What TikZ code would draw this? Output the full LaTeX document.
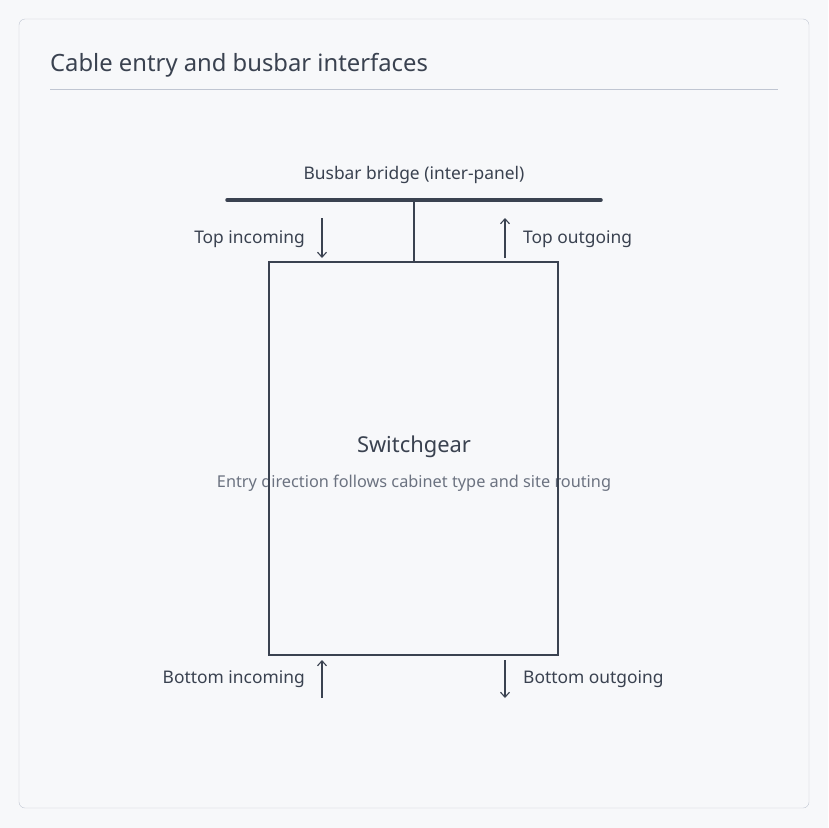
\documentclass[tikz,border=0pt]{standalone}
\usepackage{fontspec}
\setmainfont{Noto Sans}
\usetikzlibrary{arrows.meta, positioning}
\definecolor{InkColor}{RGB}{58,66,80}
\definecolor{MutedColor}{RGB}{107,114,128}
\definecolor{FrameColor}{RGB}{192,198,210}
\definecolor{PaperColor}{RGB}{247,248,250}
\tikzset{
  label text/.style={text=InkColor, font=\fontsize{17.4}{20}\selectfont, inner sep=0pt},
  flow arrow/.style={InkColor, line width=1.1pt, -{Straight Barb[length=5pt, width=9pt]}},
}
\begin{document}
\begin{tikzpicture}[x=1pt, y=-1pt]
  \useasboundingbox (0,0) rectangle (828,828);
  \fill[PaperColor] (0,0) rectangle (828,828);
  \draw[FrameColor, fill=PaperColor, rounded corners=6pt] (19,19) rectangle (809,808);
  \node[anchor=west, text=InkColor, font=\fontsize{23.8}{28}\selectfont, inner sep=0pt] (title) at (50,65) {Cable entry and busbar interfaces};
  \draw[FrameColor] (50,89) -- (778,89);
  % busbar
  \coordinate (busL) at (227,200);
  \coordinate (busR) at (601,200);
  \coordinate (busTap) at (414,200);
  \draw[InkColor, line width=3.5pt, line cap=round] (busL) -- (busR);
  \node[label text] (busLabel) at (414,175) {Busbar bridge (inter-panel)};
  % switchgear
  \node[label text, font=\fontsize{21.9}{26}\selectfont] (sgTitle) at (414,447) {Switchgear};
  \node[label text, text=MutedColor, font=\fontsize{16.3}{19}\selectfont] (sgNote) at (414,483) {Entry direction follows cabinet type and site routing};
  \node[draw=InkColor, line width=1.3pt, minimum width=289pt, minimum height=393pt, inner sep=0pt] (sg) at (413.5,458.5) {};
  \draw[InkColor, line width=1.3pt] (busTap) -- (busTap |- sg.north);
  % cable entries
  \coordinate (tiA) at (322,218); \coordinate (tiB) at (322,258);
  \coordinate (toA) at (505,258); \coordinate (toB) at (505,218);
  \coordinate (biA) at (322,698); \coordinate (biB) at (322,660);
  \coordinate (boA) at (505,660); \coordinate (boB) at (505,698);
  \draw[flow arrow] (tiA) -- (tiB);
  \draw[flow arrow] (toA) -- (toB);
  \draw[flow arrow] (biA) -- (biB);
  \draw[flow arrow] (boA) -- (boB);
  \node[label text, anchor=east] (tiLabel) at (305,239) {Top incoming};
  \node[label text, anchor=west] (toLabel) at (523,239) {Top outgoing};
  \node[label text, anchor=east] (biLabel) at (305,679) {Bottom incoming};
  \node[label text, anchor=west] (boLabel) at (523,679) {Bottom outgoing};
\end{tikzpicture}
\end{document}
